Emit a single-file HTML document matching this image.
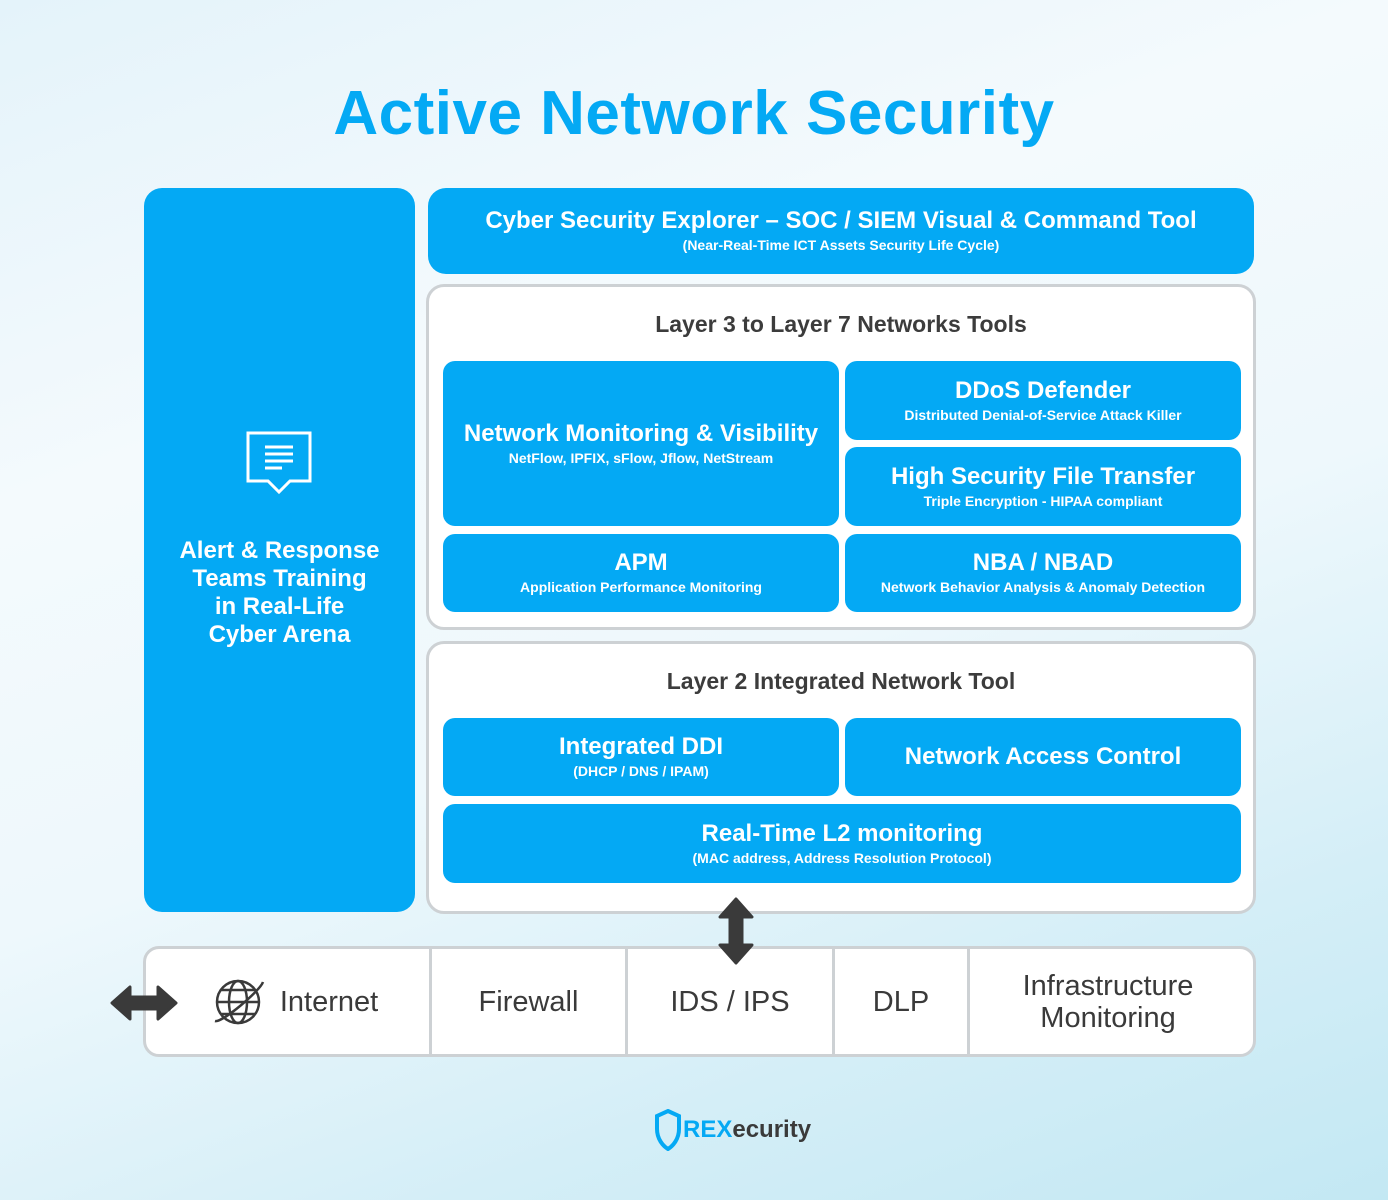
<!DOCTYPE html>
<html><head><meta charset="utf-8"><style>
*{margin:0;padding:0;box-sizing:border-box}
body{width:1388px;height:1200px;position:relative;overflow:hidden;font-family:"Liberation Sans",sans-serif;
background:linear-gradient(160deg,#e4f3fa 0%,#f4fafd 30%,#eef8fc 55%,#d4eef7 80%,#c3e8f3 100%)}
.a{position:absolute}
.b{position:absolute;background:#04a9f4;border-radius:12px;color:#fff;text-align:center;display:flex;flex-direction:column;justify-content:center;align-items:center}
.t{font-weight:bold;font-size:24px;line-height:28px}
.s{font-weight:bold;font-size:14px;line-height:20px}
.w{position:absolute;background:#fff;border:3px solid #cdd1d4;border-radius:18px}
.h{position:absolute;left:0;right:0;text-align:center;color:#3c3c3c;font-size:23px;font-weight:bold}
.c{position:absolute;top:948px;height:107px;display:flex;align-items:center;justify-content:center;color:#3a3a3a;font-size:29px;text-align:center;line-height:32px}
</style></head><body>
<div class="a" style="left:0;right:0;top:78px;text-align:center;color:#04a9f4;font-size:62px;font-weight:bold;letter-spacing:0.5px">Active Network Security</div>

<div class="b" style="left:144px;top:188px;width:271px;height:724px;border-radius:18px">
<div style="position:absolute;left:102px;top:243px"><svg width="68" height="68" viewBox="0 0 68 68"><path d="M2 2H64V50H44L33 61L22 50H2Z" fill="none" stroke="#fff" stroke-width="3"/><g stroke="#fff" stroke-width="3"><line x1="19" y1="16" x2="47" y2="16"/><line x1="19" y1="23" x2="47" y2="23"/><line x1="19" y1="30" x2="47" y2="30"/><line x1="19" y1="37" x2="36" y2="37"/></g></svg></div>
<div class="t" style="position:absolute;left:0;right:0;top:349px;line-height:28px">Alert &amp; Response<br>Teams Training<br>in Real-Life<br>Cyber Arena</div>
</div>

<div class="b" style="left:428px;top:188px;width:826px;height:86px;border-radius:18px"><div class="t">Cyber Security Explorer – SOC / SIEM Visual &amp; Command Tool</div><div class="s" style="font-size:14px">(Near-Real-Time ICT Assets Security Life Cycle)</div></div>

<div class="w" style="left:426px;top:284px;width:830px;height:346px"><div class="h" style="top:24px">Layer 3 to Layer 7 Networks Tools</div></div>
<div class="b" style="left:443px;top:361px;width:396px;height:165px"><div class="t">Network Monitoring &amp; Visibility</div><div class="s">NetFlow, IPFIX, sFlow, Jflow, NetStream</div></div>
<div class="b" style="left:845px;top:361px;width:396px;height:79px"><div class="t">DDoS Defender</div><div class="s">Distributed Denial-of-Service Attack Killer</div></div>
<div class="b" style="left:845px;top:447px;width:396px;height:79px"><div class="t">High Security File Transfer</div><div class="s">Triple Encryption - HIPAA compliant</div></div>
<div class="b" style="left:443px;top:534px;width:396px;height:78px"><div class="t">APM</div><div class="s">Application Performance Monitoring</div></div>
<div class="b" style="left:845px;top:534px;width:396px;height:78px"><div class="t">NBA / NBAD</div><div class="s">Network Behavior Analysis &amp; Anomaly Detection</div></div>

<div class="w" style="left:426px;top:641px;width:830px;height:273px"><div class="h" style="top:24px">Layer 2 Integrated Network Tool</div></div>
<div class="b" style="left:443px;top:718px;width:396px;height:78px"><div class="t">Integrated DDI</div><div class="s">(DHCP / DNS / IPAM)</div></div>
<div class="b" style="left:845px;top:718px;width:396px;height:78px"><div class="t">Network Access Control</div></div>
<div class="b" style="left:443px;top:804px;width:798px;height:79px"><div class="t">Real-Time L2 monitoring</div><div class="s">(MAC address, Address Resolution Protocol)</div></div>

<div class="w" style="left:143px;top:946px;width:1113px;height:111px;border-radius:16px"></div>
<div class="a" style="left:429px;top:949px;width:3px;height:105px;background:#cdd1d4"></div>
<div class="a" style="left:625px;top:949px;width:3px;height:105px;background:#cdd1d4"></div>
<div class="a" style="left:832px;top:949px;width:3px;height:105px;background:#cdd1d4"></div>
<div class="a" style="left:967px;top:949px;width:3px;height:105px;background:#cdd1d4"></div>
<div class="c" style="left:150px;width:290px"><svg width="54" height="50" viewBox="0 0 54 50" style="margin-right:14px"><g fill="none" stroke="#3a3a3a" stroke-width="2.5"><circle cx="26" cy="25" r="21"/><ellipse cx="26" cy="25" rx="9" ry="21"/><line x1="5" y1="25" x2="47" y2="25"/><path d="M9 13H43M9 37H43"/><path d="M3 44C10 46 48 14 51 5"/></g></svg>Internet</div>
<div class="c" style="left:432px;width:193px">Firewall</div>
<div class="c" style="left:628px;width:204px">IDS / IPS</div>
<div class="c" style="left:835px;width:132px">DLP</div>
<div class="c" style="left:970px;width:276px">Infrastructure<br>Monitoring</div>

<svg class="a" style="left:716px;top:897px" width="40" height="68" viewBox="0 0 40 68"><path d="M20 2L36 20H26V48H36L20 66L4 48H14V20H4Z" fill="#3a3a3a" stroke="#3a3a3a" stroke-width="3" stroke-linejoin="round"/></svg>
<svg class="a" style="left:110px;top:984px" width="68" height="38" viewBox="0 0 68 38"><path d="M2 19L20 3V13H48V3L66 19L48 35V25H20V35Z" fill="#3a3a3a" stroke="#3a3a3a" stroke-width="3" stroke-linejoin="round"/></svg>

<div class="a" style="left:655px;top:1108px;height:44px;display:flex;align-items:center">
<svg width="26" height="42" viewBox="0 0 26 42"><path d="M13 2L24 7V20C24 30 18 37 13 40C8 37 2 30 2 20V7Z" fill="none" stroke="#04a9f4" stroke-width="4"/></svg>
<span style="font-weight:bold;font-size:24px;color:#04a9f4;margin-left:2px">REX</span><span style="font-weight:bold;font-size:24px;color:#3a3a3a">ecurity</span></div>
</body></html>
